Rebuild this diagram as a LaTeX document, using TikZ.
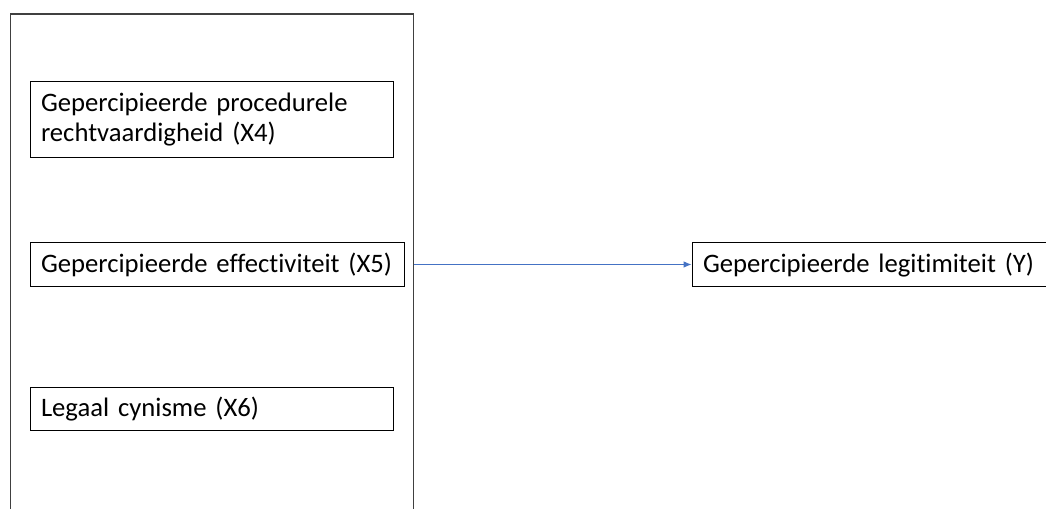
\documentclass[tikz,border=0pt]{standalone}
\usepackage{fontspec}
\setmainfont{Carlito}[WordSpace={0.6,0,0}, Ligatures={NoCommon}]
\usetikzlibrary{arrows.meta}
\tikzset{
  varbox/.style={draw=black, line width=0.75pt, rectangle, align=left, inner xsep=8.25pt, inner ysep=0pt, font=\fontsize{20}{22.5}\selectfont, anchor=center},
  frame/.style={draw=black!75, line width=0.9pt},
  link/.style={color={rgb,255:red,68;green,114;blue,196}, line width=0.75pt, -{Latex[length=6pt,width=5pt]}}
}
\begin{document}
\begin{tikzpicture}[x=0.75pt,y=-0.75pt]
\useasboundingbox (0,0) rectangle (1046,509);
\draw[frame] (10.5,512) -- (10.5,14) -- (413.5,14) -- (413.5,512);
\coordinate (frameR) at (413.5,264.5);
\node[varbox, text width=255.75pt, minimum height=57pt] (x4) at (211.5,120) {Gepercipieerde procedurele\\rechtvaardigheid (X4)};
\node[varbox, text width=264pt, minimum height=33pt] (x5) at (217,265) {Gepercipieerde effectiviteit (X5)};
\node[varbox, text width=255.75pt, minimum height=32.25pt] (x6) at (211.5,409.5) {Legaal cynisme (X6)};
\node[varbox, text width=249.75pt, minimum height=33pt] (y) at (869.5,265) {Gepercipieerde legitimiteit (Y)};
\draw[link] (frameR) -- (y.west |- frameR);
\end{tikzpicture}
\end{document}
